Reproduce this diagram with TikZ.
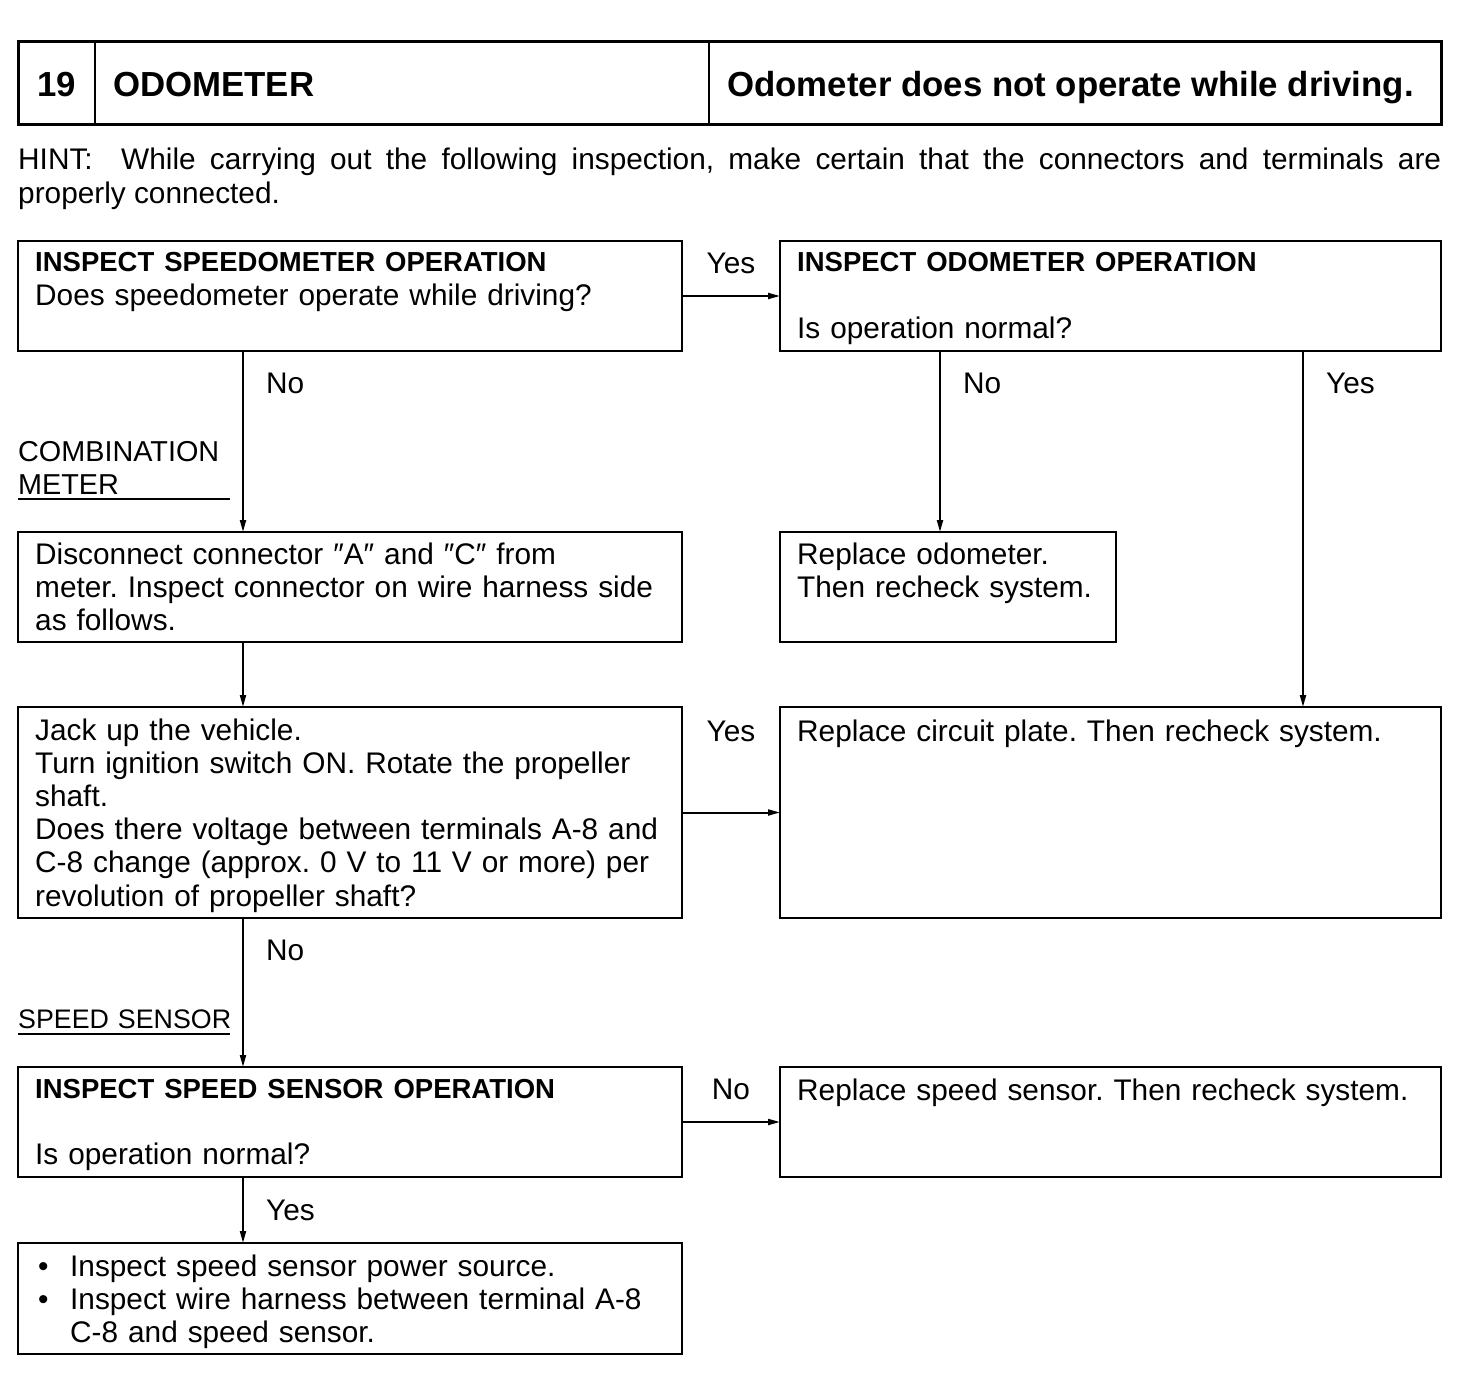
\documentclass[tikz,border=0pt]{standalone}
\usepackage{fontspec}
\setmainfont{Liberation Sans}
\usetikzlibrary{arrows.meta}
\frenchspacing
\newcommand\hd[1]{{\fontsize{27.5}{33.2}\selectfont\bfseries #1}}
\begin{document}
\begin{tikzpicture}[x=1pt,y=-1pt,
  box/.style={draw, line width=2.5pt, rectangle, inner sep=0pt, outer sep=0pt, anchor=north west},
  txt/.style={anchor=base west, inner sep=0pt, align=left, text width=660pt, font=\fontsize{29.8}{33.2}\selectfont},
  lbl/.style={inner sep=0pt, font=\fontsize{29.8}{33.2}\selectfont},
  conn/.style={line width=2pt, -{Triangle[length=12pt,width=6pt]}},
  rule/.style={line width=2pt}]
\useasboundingbox (0,0) rectangle (1472,1388);
% title
\node[box, line width=3pt, minimum width=1423pt, minimum height=83pt] (tb) at (18,42) {};
\draw[line width=2.5pt] ([xshift=77pt]tb.north west) -- ([xshift=77pt]tb.south west);
\draw[line width=2.5pt] ([xshift=691pt]tb.north west) -- ([xshift=691pt]tb.south west);
\node[lbl, anchor=base, font=\fontsize{34.8}{40}\selectfont\bfseries] (tnum) at (57,97) {19};
\node[lbl, anchor=base west, font=\fontsize{34.8}{40}\selectfont\bfseries] (tname) at (113,97) {ODOMETER};
\node[lbl, anchor=base west, font=\fontsize{34.8}{40}\selectfont\bfseries] (tsym) at (727,97) {Odometer does not operate while driving.};
% hint
\node[txt, text width=1423pt, align=justify] (hint) at (18,170) {HINT:\ \ While carrying out the following inspection, make certain that the connectors and terminals are\linebreak properly connected.};
% boxes
\node[box, minimum width=664pt, minimum height=110pt] (b1) at (18,241) {};
\node[box, minimum width=661pt, minimum height=110pt] (b2) at (780,241) {};
\node[box, minimum width=664pt, minimum height=110pt] (b3) at (18,532) {};
\node[box, minimum width=336pt, minimum height=110pt] (b4) at (780,532) {};
\node[box, minimum width=664pt, minimum height=211pt] (b5) at (18,707) {};
\node[box, minimum width=661pt, minimum height=211pt] (b6) at (780,707) {};
\node[box, minimum width=664pt, minimum height=110pt] (b7) at (18,1067) {};
\node[box, minimum width=661pt, minimum height=110pt] (b8) at (780,1067) {};
\node[box, minimum width=664pt, minimum height=111pt] (b9) at (18,1243) {};
% texts
\node[txt] (t1) at (35,272) {\hd{INSPECT SPEEDOMETER OPERATION}\\Does speedometer operate while driving?};
\node[txt] (t2) at (797,272) {\hd{INSPECT ODOMETER OPERATION}\\[33.2pt]Is operation normal?};
\node[txt] (t3) at (35,564) {Disconnect connector ″A″ and ″C″ from\\meter. Inspect connector on wire harness side\\as follows.};
\node[txt] (t4) at (797,564) {Replace odometer.\\Then recheck system.};
\node[txt] (t5) at (35,740) {Jack up the vehicle.\\Turn ignition switch ON. Rotate the propeller\\shaft.\\Does there voltage between terminals A-8 and\\C-8 change (approx. 0 V to 11 V or more) per\\revolution of propeller shaft?};
\node[txt] (t6) at (797,741) {Replace circuit plate. Then recheck system.};
\node[txt] (t7) at (35,1098) {\hd{INSPECT SPEED SENSOR OPERATION}\\[33.2pt]Is operation normal?};
\node[txt] (t8) at (797,1100) {Replace speed sensor. Then recheck system.};
\node[txt] (t9) at (38,1276) {\makebox[32pt][l]{\textbullet}Inspect speed sensor power source.\\\makebox[32pt][l]{\textbullet}Inspect wire harness between terminal A-8\\\hspace*{32pt}C-8 and speed sensor.};
% section labels
\node[txt, font=\fontsize{28.8}{33.2}\selectfont] (cm) at (18,461) {COMBINATION\\METER};
\coordinate (cmu1) at (18,499); \coordinate (cmu2) at (230,499);
\draw[rule] (cmu1) -- (cmu2);
\node[txt, font=\fontsize{26.8}{33.2}\selectfont] (ss) at (18,1028) {SPEED SENSOR};
\coordinate (ssu1) at (18,1034); \coordinate (ssu2) at (230,1034);
\draw[rule] (ssu1) -- (ssu2);
% columns
\coordinate (colL) at (243,0);
\coordinate (colM) at (940,0);
\coordinate (colR) at (1303,0);
% connectors
\draw[conn] (b1.east) -- (b2.west);
\draw[conn] (b5.east) -- (b6.west);
\draw[conn] (b7.east) -- (b8.west);
\draw[conn] (colL |- b1.south) -- (colL |- b3.north);
\draw[conn] (colL |- b3.south) -- (colL |- b5.north);
\draw[conn] (colL |- b5.south) -- (colL |- b7.north);
\draw[conn] (colL |- b7.south) -- (colL |- b9.north);
\draw[conn] (colM |- b2.south) -- (colM |- b4.north);
\draw[conn] (colR |- b2.south) -- (colR |- b6.north);
% connector labels
\node[lbl, anchor=base] (l1) at (731,274) {Yes};
\node[lbl, anchor=base west] (l2) at (266,393) {No};
\node[lbl, anchor=base west] (l3) at (963,393) {No};
\node[lbl, anchor=base west] (l4) at (1326,393) {Yes};
\node[lbl, anchor=base] (l5) at (731,741) {Yes};
\node[lbl, anchor=base west] (l6) at (266,960) {No};
\node[lbl, anchor=base] (l7) at (731,1099) {No};
\node[lbl, anchor=base west] (l8) at (266,1220) {Yes};
\end{tikzpicture}
\end{document}
